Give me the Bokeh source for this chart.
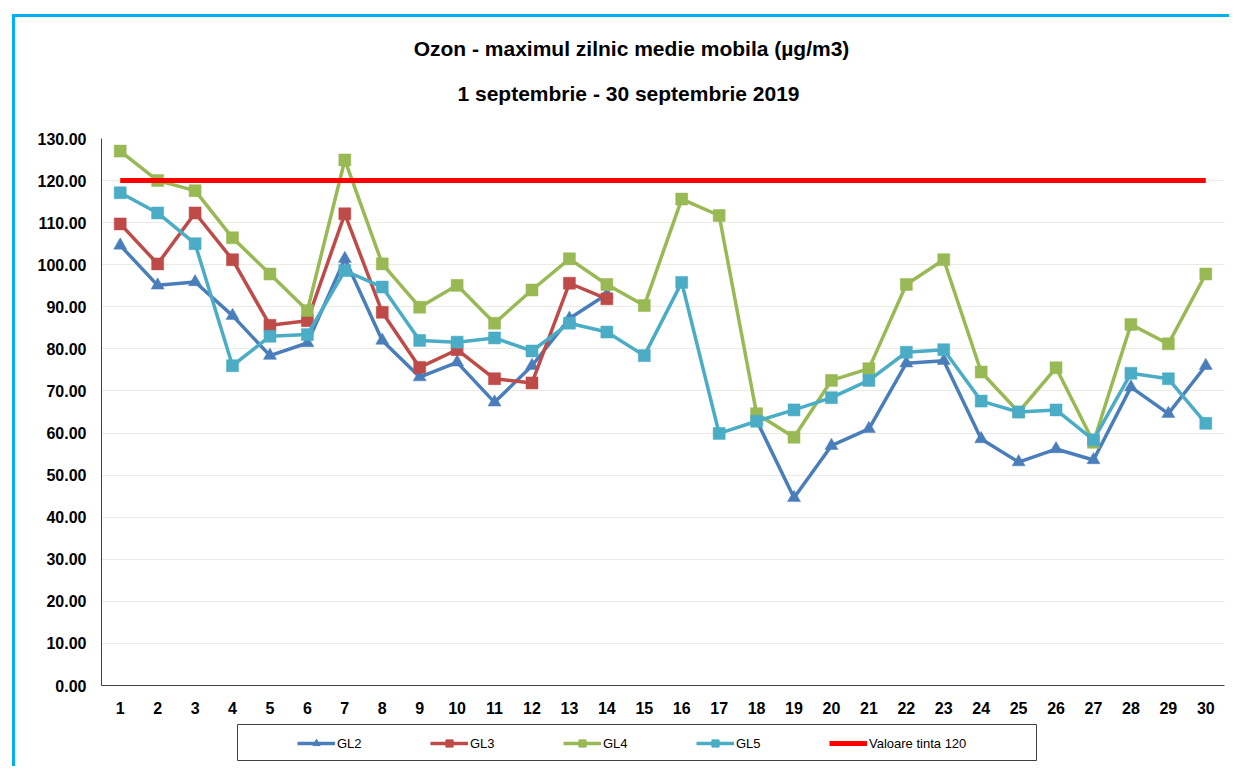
import numpy as np
from bokeh.plotting import figure
from bokeh.layouts import column
from bokeh.models import (FixedTicker, Legend, LegendItem, Label, NumeralTickFormatter, Range1d,
                          BoxAnnotation)
from bokeh.embed import file_html
from bokeh.resources import INLINE

days = list(range(1, 31))
nan = float("nan")
gl2 = [104.6, 95.1, 95.9, 87.9, 78.4, 81.4, 101.4, 82.0, 73.3, 76.8,
       67.3, 76.0, 87.2, 93.0, nan, nan, nan, 63.0, 44.6, 57.0,
       61.0, 76.6, 77.2, 58.6, 53.1, 56.2, 53.6, 70.9, 64.6, 76.0]
gl3 = [109.7, 100.2, 112.3, 101.2, 85.6, 86.7, 112.1, 88.7, 75.6, 79.8,
       72.9, 71.9, 95.6, 91.9] + [nan] * 16
gl4 = [127.0, 120.0, 117.6, 106.4, 97.8, 89.1, 124.9, 100.2, 89.9, 95.1,
       86.1, 94.0, 101.4, 95.3, 90.3, 115.6, 111.7, 64.6, 59.0, 72.5,
       75.3, 95.3, 101.2, 74.5, 65.0, 75.5, 57.8, 85.8, 81.2, 97.8]
gl5 = [117.1, 112.3, 105.0, 76.0, 83.0, 83.4, 98.6, 94.7, 82.0, 81.6,
       82.6, 79.5, 86.1, 84.0, 78.4, 95.8, 59.9, 62.8, 65.5, 68.4,
       72.5, 79.2, 79.8, 67.6, 65.0, 65.5, 58.4, 74.2, 72.9, 62.3]
target = [120] * 30
y_ticks = list(range(0, 131, 10))
series_names = ["GL2", "GL3", "GL4", "GL5"]
target_label = "Valoare tinta 120"
title_line1 = "Ozon - maximul zilnic medie mobila (µg/m3)"
title_line2 = "1 septembrie - 30 septembrie 2019"

FONT = "Liberation Sans"
CYAN = "3px solid #00B0F0"


def bare(fig):
    fig.outline_line_color = None
    fig.xgrid.grid_line_color = None
    fig.ygrid.grid_line_color = None


# header strip with the two title lines
hd = figure(width=1217, height=106, output_backend="svg", toolbar_location=None,
            x_axis_type=None, y_axis_type=None, x_range=Range1d(0, 1), y_range=Range1d(0, 1),
            min_border=0, margin=(14, 0, 0, 12),
            styles={"border-top": CYAN, "border-left": CYAN})
bare(hd)
for txt, xs, ys in ((title_line1, 530, 75), (title_line2, 527, 30)):
    hd.add_layout(Label(x=xs, y=ys, x_units="screen", y_units="screen", text=txt,
                        text_align="center", text_baseline="middle",
                        text_font=FONT, text_font_size="21px", text_font_style="bold",
                        text_color="#000000"))

# main chart
p = figure(width=1217, height=602, output_backend="svg", toolbar_location=None,
           x_range=Range1d(0.5, 30.5), y_range=Range1d(0, 130),
           min_border_left=86, min_border_right=8, min_border_top=18, min_border_bottom=37,
           margin=(0, 0, 0, 12), styles={"border-left": CYAN})
p.outline_line_color = None

colors = {"GL2": "#4A7EBB", "GL3": "#BE4B48", "GL4": "#98B954", "GL5": "#4BACC6"}
markers = {"GL2": "triangle", "GL3": "square", "GL4": "square", "GL5": "square"}
values = {"GL2": gl2, "GL3": gl3, "GL4": gl4, "GL5": gl5}
for name in series_names:
    c = colors[name]
    m = markers[name]
    p.line(days, values[name], line_color=c, line_width=3.5)
    p.scatter(days, values[name], marker=m, size=12 if m == "square" else 13,
              fill_color=c, line_color=c, line_width=0.5)
p.line(days, target, line_color="#FF0000", line_width=5)

p.xaxis.ticker = FixedTicker(ticks=days)
p.yaxis.ticker = FixedTicker(ticks=y_ticks)
p.yaxis.formatter = NumeralTickFormatter(format="0.00")
for ax in (p.xaxis, p.yaxis):
    ax.major_label_text_font = FONT
    ax.major_label_text_font_size = "16px"
    ax.major_label_text_font_style = "bold"
    ax.major_label_text_color = "#000000"
    ax.major_tick_line_color = None
    ax.minor_tick_line_color = None
    ax.axis_line_color = "#404040"
    ax.axis_line_width = 1
p.xaxis.major_label_standoff = 10
p.yaxis.major_label_standoff = 9
p.xgrid.grid_line_color = None
p.ygrid.grid_line_color = "#EBEBE3"
p.ygrid.grid_line_width = 1

# legend strip below the chart (legend proxies carry only the styles)
lg = figure(width=1217, height=44, output_backend="svg", toolbar_location=None,
            x_axis_type=None, y_axis_type=None, x_range=Range1d(0, 1), y_range=Range1d(0, 44),
            min_border=0, margin=(0, 0, 0, 12), styles={"border-left": CYAN})
bare(lg)
items = []
for name in series_names:
    c = colors[name]
    m = markers[name]
    r1 = lg.line([nan], [nan], line_color=c, line_width=3.5)
    r2 = lg.scatter([nan], [nan], marker=m, size=8, fill_color=c, line_color=c)
    items.append(LegendItem(label=name, renderers=[r1, r2]))
rt = lg.line([nan], [nan], line_color="#FF0000", line_width=5)
items.append(LegendItem(label=target_label, renderers=[rt]))

# legend frame (wider than the items, as in the original)
lg.add_layout(BoxAnnotation(left=136, right=935, bottom=6, top=42,
                            left_units="screen", right_units="screen",
                            bottom_units="data", top_units="data",
                            fill_alpha=0, fill_color=None,
                            line_color="#404040", line_width=1, line_alpha=1))

legend = Legend(items=items, orientation="horizontal", location=(196, 14),
                glyph_width=38, glyph_height=18, label_standoff=2, label_width=91, spacing=2,
                padding=9, margin=0,
                label_text_font=FONT, label_text_font_size="13px", label_text_color="#000000",
                border_line_color=None, background_fill_alpha=0)
lg.add_layout(legend, "center")

layout = column(hd, p, lg, spacing=0)
open("out.html", "w").write(file_html(layout, INLINE))
